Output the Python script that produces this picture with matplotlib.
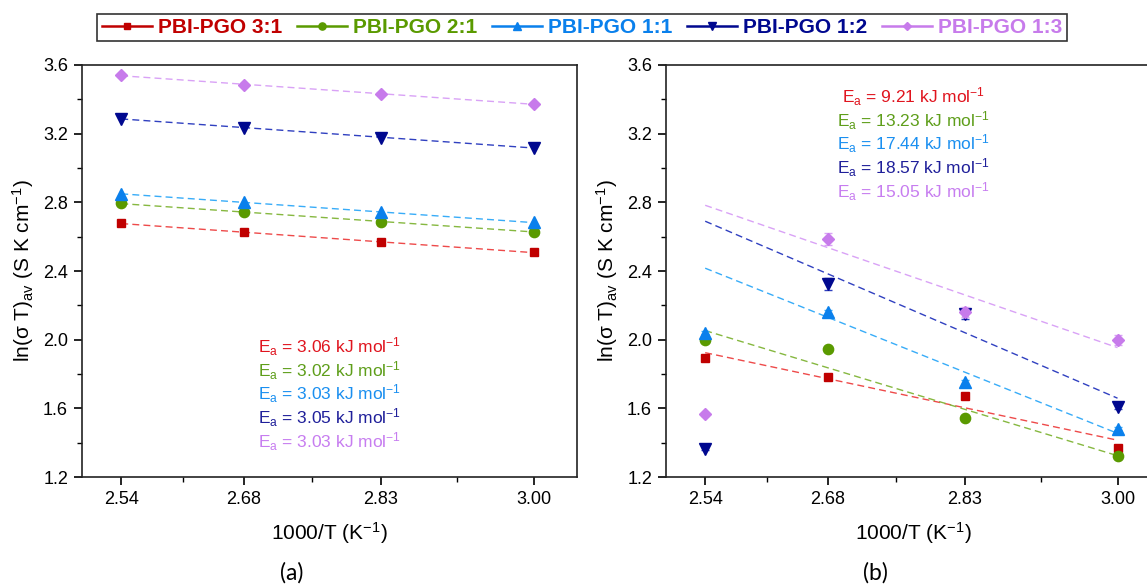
import numpy as np
import matplotlib
matplotlib.use("Agg")
from matplotlib import pyplot as plt
from matplotlib.lines import Line2D

plt.rcParams['font.family'] = ['Liberation Sans', 'DejaVu Sans']
plt.rcParams['mathtext.fontset'] = 'custom'
plt.rcParams['mathtext.rm'] = 'Liberation Sans'
plt.rcParams['mathtext.it'] = 'Liberation Sans:italic'
plt.rcParams['mathtext.bf'] = 'Liberation Sans:bold'

# 1000/T for 120, 100, 80, 60 C
inv_t = [2.5436, 2.6799, 2.8317, 3.0017]
tick_labels = ["2.54", "2.68", "2.83", "3.00"]

names = ["PBI-PGO 3:1", "PBI-PGO 2:1", "PBI-PGO 1:1", "PBI-PGO 1:2", "PBI-PGO 1:3"]
markers = ["s", "o", "^", "v", "D"]
msizes = [6.4, 7.4, 8.4, 8.4, 6.2]
mark_colors = ["#C00000", "#5A9A00", "#0A80EC", "#00088F", "#C77BEB"]
line_colors = ["#EE4A4A", "#86B840", "#38ACF8", "#3040C0", "#D9A2F6"]
text_colors = ["#E0141E", "#5E9E1A", "#1A8FF0", "#1F1F9A", "#C77DF0"]

# (a)
lnsT_a = [
    [2.678, 2.625, 2.567, 2.509],
    [2.794, 2.742, 2.687, 2.629],
    [2.850, 2.800, 2.742, 2.683],
    [3.287, 3.235, 3.177, 3.118],
    [3.540, 3.485, 3.431, 3.373],
]
ea_a = ["3.06", "3.02", "3.03", "3.05", "3.03"]

# (b)
lnsT_b = [
    [1.893, 1.781, 1.672, 1.369],
    [1.996, 1.944, 1.544, 1.324],
    [2.041, 2.161, 1.753, 1.482],
    [1.365, 2.326, 2.150, 1.608],
    [1.565, 2.588, 2.163, 2.000],
]
err_b = [
    [0.01, 0.01, 0.01, 0.01],
    [0.01, 0.01, 0.01, 0.01],
    [0.01, 0.01, 0.01, 0.01],
    [0.01, 0.035, 0.03, 0.01],
    [0.01, 0.035, 0.03, 0.03],
]
fit_from_b = [0, 0, 1, 1, 1]
ea_b = ["9.21", "13.23", "17.44", "18.57", "15.05"]

fig = plt.figure(figsize=(11.47, 5.85), dpi=100)
ax_a = fig.add_axes([0.0715, 0.1846, 0.4316, 0.7043])
ax_b = fig.add_axes([0.5806, 0.1846, 0.4316, 0.7043])

x = np.array(inv_t)


def style_axes(ax):
    ax.set_xlim(2.5, 3.05)
    ax.set_ylim(1.2, 3.6)
    ax.set_xticks(x)
    ax.set_xticklabels(tick_labels)
    ax.set_xticks((x[:-1] + x[1:]) / 2, minor=True)
    ax.set_yticks(np.arange(1.2, 3.61, 0.4))
    ax.set_yticklabels(["%.1f" % v for v in np.arange(1.2, 3.61, 0.4)])
    ax.set_yticks(np.arange(1.4, 3.5, 0.4), minor=True)
    ax.tick_params(which="major", direction="out", length=6, width=1.2,
                   labelsize=13, pad=4, top=False, right=False)
    ax.tick_params(which="minor", direction="out", length=3.5, width=1.0,
                   top=False, right=False)
    for s in ax.spines.values():
        s.set_linewidth(1.2)
        s.set_color("#222222")
    ax.set_xlabel("1000/T (K$^{-1}$)", fontsize=15, labelpad=9)
    ax.set_ylabel("ln(σ T)$_{\\mathrm{av}}$ (S K cm$^{-1}$)", fontsize=15, labelpad=5)


for i in range(5):
    y = np.array(lnsT_a[i])
    k, b = np.polyfit(x, y, 1)
    ax_a.plot(x[[0, -1]], k * x[[0, -1]] + b, ls=(0, (5, 3)), lw=1.0,
              color=line_colors[i], zorder=2)
    ax_a.plot(x, y, ls="none", marker=markers[i], ms=msizes[i],
              color=mark_colors[i], mec=mark_colors[i], zorder=3 + i)
    ax_a.text(0.5, 0.316 - 0.0575 * i, "E$_{\\mathrm{a}}$ = " + ea_a[i] + " kJ mol$^{-1}$",
              transform=ax_a.transAxes, ha="center", va="center",
              fontsize=12.5, color=text_colors[i])

for i in range(5):
    y = np.array(lnsT_b[i])
    j = fit_from_b[i]
    k, b = np.polyfit(x[j:], y[j:], 1)
    ax_b.plot(x[[0, -1]], k * x[[0, -1]] + b, ls=(0, (5, 3)), lw=1.0,
              color=line_colors[i], zorder=2)
    ax_b.errorbar(x, y, yerr=err_b[i], ls="none", marker=markers[i], ms=msizes[i],
                  color=mark_colors[i], mec=mark_colors[i], ecolor=line_colors[i],
                  elinewidth=1, capsize=3, zorder=3 + i)
    ax_b.text(0.5, 0.923 - 0.0575 * i, "E$_{\\mathrm{a}}$ = " + ea_b[i] + " kJ mol$^{-1}$",
              transform=ax_b.transAxes, ha="center", va="center",
              fontsize=12.5, color=text_colors[i])

style_axes(ax_a)
style_axes(ax_b)

handles = [Line2D([0], [0], color=mark_colors[i], lw=1.8, marker=markers[i],
                  ms=msizes[i] * 0.7) for i in range(5)]
leg = fig.legend(handles, names, loc="center", bbox_to_anchor=(0.5074, 0.953),
                 ncol=5, frameon=True, fancybox=False, edgecolor="black",
                 prop={"weight": "bold", "size": 15}, handlelength=2.4,
                 handletextpad=0.3, columnspacing=0.7, borderpad=0.2,
                 borderaxespad=0)
leg.get_frame().set_linewidth(1.2)
for t, c in zip(leg.get_texts(), mark_colors):
    t.set_color(c)

fig.text(0.2546, 0.0205, "(a)", ha="center", va="center", fontsize=16.5, family="Lato")
fig.text(0.763, 0.0205, "(b)", ha="center", va="center", fontsize=16.5, family="Lato")

fig.savefig("out.png", dpi=100)
